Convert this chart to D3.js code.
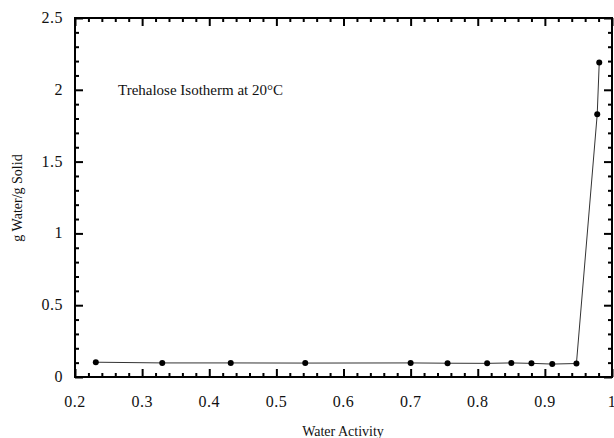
<!DOCTYPE html>
<html>
    <head>
        <style>
        body{
            margin: 0;
            background: #fff;
        }
        svg{
            display: block;
        }</style>
    </head>
    <body>
        <svg width="614" height="438"></svg>

        <script src="https://cdnjs.cloudflare.com/ajax/libs/d3/7.8.5/d3.min.js"></script>
        <script>
            // water activity vs moisture content
            let waterActivity = [0.231, 0.330, 0.432, 0.543, 0.700, 0.755, 0.814, 0.850, 0.880, 0.911, 0.947, 0.978, 0.981];
            let gWater = [0.103, 0.098, 0.098, 0.097, 0.098, 0.096, 0.095, 0.098, 0.095, 0.090, 0.094, 1.83, 2.19];
            let xTicks = [0.2, 0.3, 0.4, 0.5, 0.6, 0.7, 0.8, 0.9, 1];
            let yTicks = [0, 0.5, 1, 1.5, 2, 2.5];

            const width = 614;
            const height = 438;
            const margin = {top: 18, left: 75, right: 2, bottom: 61};
            const serif = "'Liberation Serif', 'Times New Roman', serif";

            let xScale = d3.scaleLinear()
                .domain([0.2, 1])
                .range([margin.left, width - margin.right]);
            let yScale = d3.scaleLinear()
                .domain([0, 2.5])
                .range([height - margin.bottom, margin.top]);

            let svg = d3.select("svg");

            let xMinor = d3.range(0.2, 1.0001, 0.02).filter(v => Math.abs(v * 10 - Math.round(v * 10)) > 1e-6);
            let yMinor = d3.range(0, 2.5001, 0.1).filter(v => Math.abs(v * 2 - Math.round(v * 2)) > 1e-6);

            // bottom axis, ticks pointing inward
            let bottomAxis = svg.append("g")
                .attr("transform", "translate(" + [0, height - margin.bottom] + ")");
            bottomAxis.call(d3.axisTop(xScale).tickValues(xTicks).tickSize(8).tickFormat(""));
            bottomAxis.append("g").call(d3.axisTop(xScale).tickValues(xMinor).tickSize(4).tickFormat(""));
            bottomAxis.selectAll(".domain").remove();

            svg.append("g").selectAll("text").data(xTicks).enter().append("text")
                .attr("x", d => xScale(d))
                .attr("y", height - margin.bottom + 30)
                .attr("text-anchor", "middle")
                .attr("font-family", serif)
                .attr("font-size", 16)
                .attr("letter-spacing", 0.5)
                .attr("fill", "#111")
                .text(d => d === 1 ? "1" : d.toFixed(1));

            // top axis, ticks pointing down
            let topAxis = svg.append("g")
                .attr("transform", "translate(" + [0, margin.top] + ")");
            topAxis.call(d3.axisBottom(xScale).tickValues(xTicks).tickSize(8).tickFormat(""));
            topAxis.append("g").call(d3.axisBottom(xScale).tickValues(xMinor).tickSize(4).tickFormat(""));
            topAxis.selectAll(".domain").remove();

            // left axis
            let leftAxis = svg.append("g")
                .attr("transform", "translate(" + [margin.left, 0] + ")");
            leftAxis.call(d3.axisRight(yScale).tickValues(yTicks).tickSize(8).tickFormat(""));
            leftAxis.append("g").call(d3.axisRight(yScale).tickValues(yMinor).tickSize(4).tickFormat(""));
            leftAxis.selectAll(".domain").remove();

            svg.append("g").selectAll("text").data(yTicks).enter().append("text")
                .attr("x", margin.left - 12)
                .attr("y", d => yScale(d) + 5)
                .attr("text-anchor", "end")
                .attr("font-family", serif)
                .attr("font-size", 16)
                .attr("letter-spacing", 0.5)
                .attr("fill", "#111")
                .text(d => d);

            // right axis
            let rightAxis = svg.append("g")
                .attr("transform", "translate(" + [width - margin.right, 0] + ")");
            rightAxis.call(d3.axisLeft(yScale).tickValues(yTicks).tickSize(8).tickFormat(""));
            rightAxis.append("g").call(d3.axisLeft(yScale).tickValues(yMinor).tickSize(4).tickFormat(""));
            rightAxis.selectAll(".domain").remove();

            svg.selectAll(".tick line")
                .attr("stroke", "#000")
                .attr("stroke-width", 2);

            // frame
            svg.append("rect")
                .attr("x", margin.left)
                .attr("y", margin.top)
                .attr("width", width - margin.left - margin.right)
                .attr("height", height - margin.top - margin.bottom)
                .attr("fill", "none")
                .attr("stroke", "#000")
                .attr("stroke-width", 2);

            let points = waterActivity.map((a, i) => [a, gWater[i]]);

            svg.append("path")
                .datum(points)
                .attr("fill", "none")
                .attr("stroke", "#333")
                .attr("stroke-width", 1)
                .attr("d", d3.line().x(d => xScale(d[0])).y(d => yScale(d[1])));

            svg.selectAll("circle")
                .data(points)
                .enter().append("circle")
                .attr("cx", d => xScale(d[0]))
                .attr("cy", d => yScale(d[1]))
                .attr("r", 3)
                .attr("fill", "#000");

            svg.append("text")
                .attr("x", 118)
                .attr("y", 95)
                .attr("font-family", serif)
                .attr("font-size", 15)
                .attr("fill", "#111")
                .text("Trehalose Isotherm at 20°C");

            svg.append("text")
                .attr("x", 343)
                .attr("y", 436)
                .attr("text-anchor", "middle")
                .attr("font-family", serif)
                .attr("font-size", 14)
                .attr("fill", "#111")
                .text("Water Activity");

            svg.append("text")
                .attr("transform", "translate(22,198) rotate(-90)")
                .attr("text-anchor", "middle")
                .attr("font-family", serif)
                .attr("font-size", 14)
                .attr("fill", "#111")
                .text("g Water/g Solid");
        </script>
    </body>
</html>
